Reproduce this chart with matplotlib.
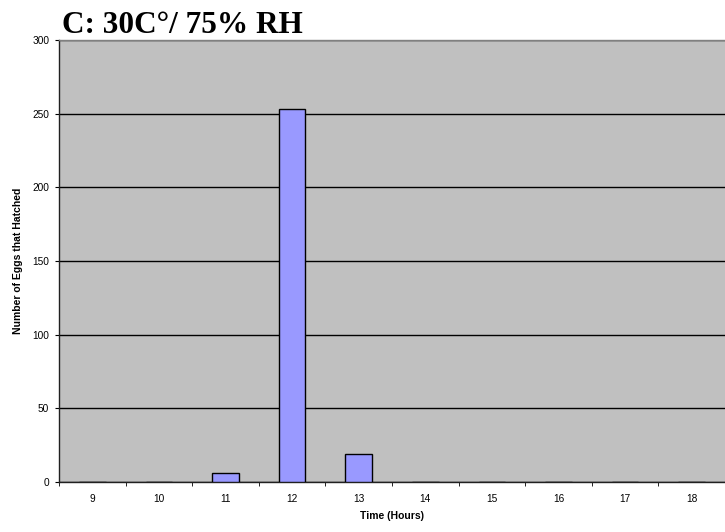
import matplotlib.pyplot as plt
import numpy as np

# data
hours = ["9", "10", "11", "12", "13", "14", "15", "16", "17", "18"]
hatched = [0, 0, 6, 253, 19, 0, 0, 0, 0, 0]

fig = plt.figure(figsize=(7.25, 5.32), dpi=100)
ax = fig.add_axes([59 / 725, 1 - 482 / 532, 1 - 59 / 725, (482 - 40) / 532])
ax.set_facecolor("#C0C0C0")

x = np.arange(len(hours))
ax.bar(x, hatched, width=0.4, color="#9999FF", edgecolor="black", linewidth=1, zorder=3)

ax.set_xlim(-0.5, len(hours) - 0.5)
ax.set_ylim(0, 300)
ax.set_yticks(range(0, 301, 50))
ax.yaxis.grid(True, color="black", linewidth=1, zorder=1)
ax.set_axisbelow(True)

# category labels centered, tick marks between categories
ax.set_xticks(x)
ax.set_xticklabels(hours, fontsize=7.3, family="Liberation Sans")
ax.tick_params(axis="x", length=0, pad=9)
ax.set_xticks(np.arange(-0.5, len(hours), 1), minor=True)
ax.tick_params(axis="x", which="minor", length=3, color="black", direction="out")
ax.tick_params(axis="y", labelsize=7.3, length=3, color="black", direction="out", pad=4)
for lab in ax.get_yticklabels():
    lab.set_family("Liberation Sans")

ax.spines["top"].set_color("#808080")
ax.spines["top"].set_linewidth(1)
ax.spines["right"].set_visible(False)
ax.spines["left"].set_linewidth(1)
ax.spines["bottom"].set_linewidth(1)
ax.spines["left"].set_color("#202020")
ax.spines["bottom"].set_color("#202020")

ax.set_xlabel("Time (Hours)", fontsize=7.5, fontweight="bold", family="Liberation Sans", labelpad=5)
ax.set_ylabel("Number of Eggs that Hatched", fontsize=7.5, fontweight="bold", family="Liberation Sans", labelpad=7)

fig.text(62 / 725, 1 - 33 / 532, "C: 30C°/ 75% RH", fontsize=22.5, fontweight="bold",
         family="Liberation Serif", ha="left", va="baseline")

fig.savefig("out.png", dpi=100)
